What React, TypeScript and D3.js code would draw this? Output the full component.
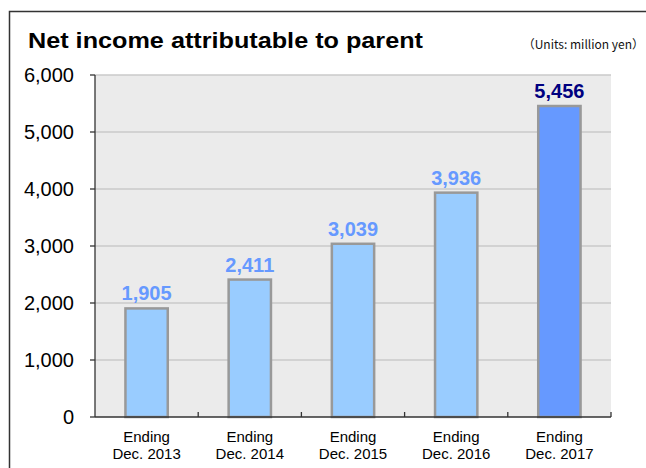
import React from "react";
import * as d3 from "d3";

const categories = ["Dec. 2013", "Dec. 2014", "Dec. 2015", "Dec. 2016", "Dec. 2017"];
const values = [1905, 2411, 3039, 3936, 5456];
const yTicks = [0, 1000, 2000, 3000, 4000, 5000, 6000];
const highlightIndex = 4;
const title = "Net income attributable to parent";
const units = "（Units: million yen）";

const W = 646;
const H = 468;
const plot = { left: 95, right: 611, top: 75, bottom: 417 };

export default function App() {
  const x = d3
    .scaleBand<string>()
    .domain(categories)
    .range([plot.left, plot.right])
    .paddingInner(0.59)
    .paddingOuter(0.295);
  const y = d3.scaleLinear().domain([0, 6000]).range([plot.bottom, plot.top]);
  const fmt = d3.format(",");
  const step = x.step();
  const font = "Arial, 'Liberation Sans', sans-serif";

  return (
    <svg
      width={W}
      height={H}
      style={{ position: "absolute", left: 0, top: 0, background: "#fff" }}
      fontFamily={font}
    >
      {/* frame */}
      <path d={`M9.5,${H} V11.5 H${W}`} fill="none" stroke="#333" strokeWidth={1.5} />

      {/* title */}
      <text
        x={28}
        y={47.5}
        fontSize={22.5}
        fontWeight="bold"
        fill="#000"
        textLength={395}
        lengthAdjust="spacingAndGlyphs"
      >
        {title}
      </text>
      <text
        x={644}
        y={49}
        fontSize={12}
        textAnchor="end"
        fill="#111"
        fontFamily="'Noto Sans CJK JP', Arial, sans-serif"
      >
        {units}
      </text>

      {/* plot background */}
      <rect
        x={plot.left}
        y={plot.top}
        width={plot.right - plot.left}
        height={plot.bottom - plot.top}
        fill="#ebebeb"
      />
      {yTicks
        .filter((t) => t > 0)
        .map((t) => (
          <line
            key={"g" + t}
            x1={plot.left}
            x2={plot.right}
            y1={y(t)}
            y2={y(t)}
            stroke="#cacaca"
            strokeWidth={1.5}
          />
        ))}

      {/* bars */}
      {categories.map((c, i) => (
        <rect
          key={c}
          x={x(c)!}
          y={y(values[i])}
          width={x.bandwidth()}
          height={plot.bottom - y(values[i])}
          fill={i === highlightIndex ? "#6699ff" : "#99ccff"}
          stroke="#999999"
          strokeWidth={2.5}
        />
      ))}

      {/* axes */}
      <line x1={plot.left} x2={plot.left} y1={plot.top} y2={plot.bottom} stroke="#333" strokeWidth={1.3} />
      <line x1={plot.left} x2={plot.right} y1={plot.bottom} y2={plot.bottom} stroke="#333" strokeWidth={1.3} />
      {yTicks.map((t) => (
        <g key={"t" + t}>
          <line x1={plot.left - 5} x2={plot.left} y1={y(t)} y2={y(t)} stroke="#333" strokeWidth={1.3} />
          <text x={74} y={y(t)} dy="0.36em" textAnchor="end" fontSize={20} fill="#000">
            {fmt(t)}
          </text>
        </g>
      ))}
      {categories.map((c, i) => (
        <line
          key={"xt" + c}
          x1={plot.left + step * (i + 1)}
          x2={plot.left + step * (i + 1)}
          y1={plot.bottom}
          y2={plot.bottom - 5}
          stroke="#333"
          strokeWidth={1.3}
        />
      ))}

      {/* category labels */}
      {categories.map((c) => {
        const cx = x(c)! + x.bandwidth() / 2;
        return (
          <text key={"l" + c} x={cx} textAnchor="middle" fontSize={15} fill="#000">
            <tspan x={cx} y={442}>Ending</tspan>
            <tspan x={cx} y={459}>{c}</tspan>
          </text>
        );
      })}

      {/* value labels */}
      {categories.map((c, i) => (
        <text
          key={"v" + c}
          x={x(c)! + x.bandwidth() / 2}
          y={y(values[i]) - 8}
          textAnchor="middle"
          fontSize={20}
          fontWeight="bold"
          fill={i === highlightIndex ? "#000080" : "#6699ff"}
        >
          {fmt(values[i])}
        </text>
      ))}
    </svg>
  );
}
